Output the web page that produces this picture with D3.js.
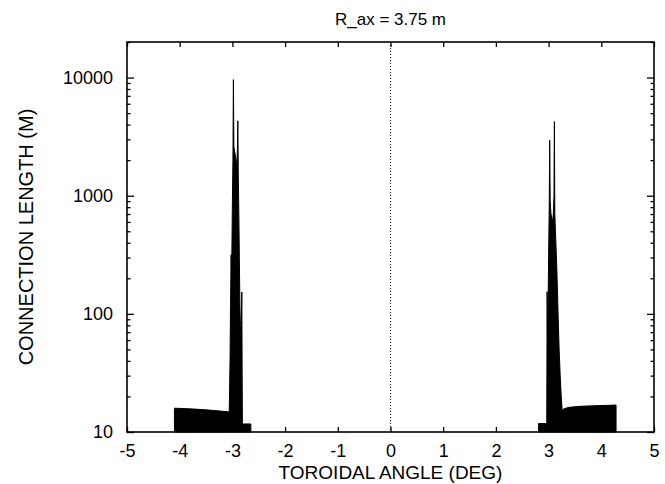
<!DOCTYPE html>
<html>
<head>
<meta charset="utf-8">
<script src="https://cdn.jsdelivr.net/npm/d3@7"></script>
<style>
  html, body { margin: 0; padding: 0; background: #fff; }
  svg { display: block; font-family: "Liberation Sans", Arial, Helvetica, sans-serif; }
</style>
</head>
<body>
<svg id="chart" width="665" height="484"></svg>
<script>
const title = "R_ax = 3.75 m";
const xLabel = "TOROIDAL ANGLE (DEG)";
const yLabel = "CONNECTION LENGTH (M)";
const xTicks = [-5, -4, -3, -2, -1, 0, 1, 2, 3, 4, 5];
const yTicks = [10, 100, 1000, 10000];

// Left-side structure (angle in deg, connection length in m)
const leftAngle  = [-4.10, -3.80, -3.50, -3.20, -3.06, -3.045, -3.035, -3.025, -3.015, -3.000, -2.990, -2.981, -2.972, -2.960, -2.945, -2.930, -2.915, -2.905, -2.897, -2.888, -2.878, -2.868, -2.858, -2.848, -2.838, -2.828, -2.821, -2.815, -2.810, -2.650];
const leftLength = [15.9, 15.7, 15.4, 15.0, 14.8, 40, 120, 316, 200, 900, 2000, 9600, 2600, 2400, 2200, 2000, 1800, 2500, 4300, 1500, 700, 300, 120, 80, 60, 100, 153, 30, 11.7, 11.7];

// Right-side structure
const rightAngle  = [2.81, 2.965, 2.972, 2.980, 2.990, 3.000, 3.012, 3.021, 3.030, 3.045, 3.060, 3.075, 3.090, 3.102, 3.110, 3.118, 3.130, 3.155, 3.180, 3.200, 3.220, 3.240, 3.257, 3.300, 3.400, 3.600, 3.900, 4.280];
const rightLength = [11.8, 11.8, 154, 60, 120, 300, 800, 2950, 900, 700, 650, 600, 700, 1000, 4250, 700, 500, 250, 100, 50, 30, 20, 15.3, 15.8, 16.2, 16.5, 16.7, 16.9];

const svg = d3.select("#chart");
const m = { left: 127, top: 42, right: 11, bottom: 52 };
const W = 665 - m.left - m.right;
const H = 484 - m.top - m.bottom;

const x = d3.scaleLinear().domain([-5, 5]).range([0, W]);
const y = d3.scaleLog().domain([10, 20000]).range([H, 0]);

const g = svg.append("g").attr("transform", `translate(${m.left},${m.top})`);

// data
const area = d3.area()
  .x(d => x(d[0]))
  .y0(y(10))
  .y1(d => y(d[1]));

[[leftAngle, leftLength], [rightAngle, rightLength]].forEach(([a, l]) => {
  const pts = a.map((v, i) => [v, l[i]]);
  g.append("path").datum(pts)
    .attr("d", area)
    .attr("fill", "#000")
    .attr("stroke", "#000")
    .attr("stroke-width", 1);
});

// dotted zero line
g.append("line")
  .attr("x1", x(0)).attr("x2", x(0))
  .attr("y1", 0).attr("y2", H)
  .attr("stroke", "#000").attr("stroke-width", 1)
  .attr("stroke-dasharray", "1,2");

// axes with inward ticks
const minorY = [];
[10, 100, 1000, 10000].forEach(dec => {
  for (let k = 2; k <= 9; k++) { const v = dec * k; if (v <= 20000) minorY.push(v); }
});

const fmt = d => String(d);
const xb = d3.axisBottom(x).tickValues(xTicks).tickSize(-5).tickPadding(12).tickFormat(fmt);
const xt = d3.axisTop(x).tickValues(xTicks).tickSize(-5).tickFormat("");
const yl = d3.axisLeft(y).tickValues(yTicks).tickSize(-7).tickPadding(14).tickFormat(fmt);
const yr = d3.axisRight(y).tickValues(yTicks).tickSize(-7).tickFormat("");
const ylm = d3.axisLeft(y).tickValues(minorY).tickSize(-3.5).tickFormat("");
const yrm = d3.axisRight(y).tickValues(minorY).tickSize(-3.5).tickFormat("");

function style(sel) {
  sel.select(".domain").remove();
  sel.selectAll(".tick line").attr("stroke", "#000").attr("stroke-width", 1.3);
  sel.selectAll(".tick text").attr("fill", "#000").attr("font-size", 18)
     .attr("font-family", "'Liberation Sans', Arial, sans-serif");
}
g.append("g").attr("transform", `translate(0,${H})`).call(xb).call(style);
g.append("g").call(xt).call(style);
g.append("g").call(yl).call(style);
g.append("g").attr("transform", `translate(${W},0)`).call(yr).call(style);
g.append("g").call(ylm).call(style);
g.append("g").attr("transform", `translate(${W},0)`).call(yrm).call(style);

// frame
g.append("rect").attr("x", 0).attr("y", 0).attr("width", W).attr("height", H)
  .attr("fill", "none").attr("stroke", "#000").attr("stroke-width", 1.6);

// labels
svg.append("text").attr("x", m.left + W / 2).attr("y", 25)
  .attr("text-anchor", "middle").attr("font-size", 17).text(title);
svg.append("text").attr("x", m.left + W / 2).attr("y", 479)
  .attr("text-anchor", "middle").attr("font-size", 19).text(xLabel);
svg.append("text").attr("transform", `translate(33,${m.top + H / 2}) rotate(-90)`)
  .attr("text-anchor", "middle").attr("font-size", 20).text(yLabel);
</script>
</body>
</html>
